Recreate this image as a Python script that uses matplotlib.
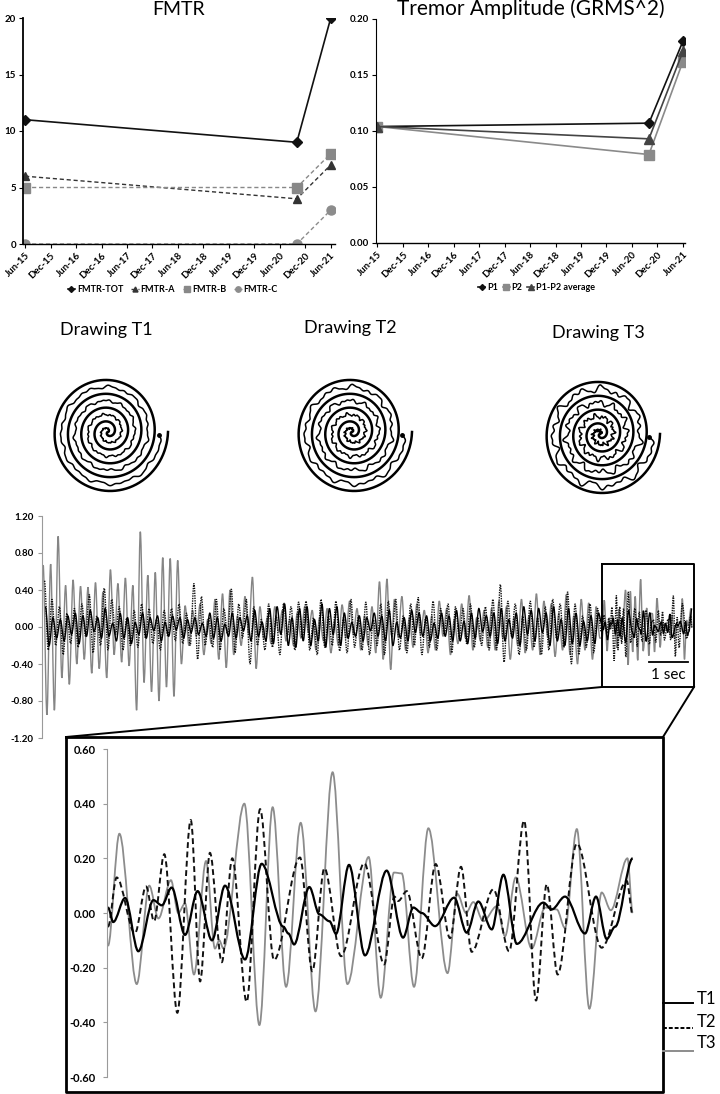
import numpy as np
import matplotlib
matplotlib.use("Agg")
import matplotlib.pyplot as plt
from matplotlib.path import Path
from matplotlib.patches import PathPatch

plt.rcParams['font.family'] = ['Lato', 'DejaVu Sans']

# ---------------- data ----------------
# months since Jun-15
visit_months = [0, 64, 72]
date_labels = ['Jun-15', 'Dec-15', 'Jun-16', 'Dec-16', 'Jun-17', 'Dec-17', 'Jun-18',
               'Dec-18', 'Jun-19', 'Dec-19', 'Jun-20', 'Dec-20', 'Jun-21']

fmtr_tot = [11, 9, 20]
fmtr_a = [6, 4, 7]
fmtr_b = [5, 5, 8]
fmtr_c = [0, 0, 3]

amp_p1 = [0.104, 0.107, 0.180]
amp_p2 = [0.104, 0.079, 0.162]
amp_avg = [0.104, 0.093, 0.171]

# whole recording (g), peak/trough values before the zoomed window
long_t3 = [0.67, -0.95, 0.68, -0.90, 0.98, -0.55, 0.45, -0.62, 0.51, -0.40,
           0.44, -0.35, 0.43, -0.50, 0.48, -0.45, 0.38, -0.55, 0.62, -0.30,
           0.47, -0.38, 0.53, -0.42, 0.45, -0.90, 1.03, -0.60, 0.56, -0.70,
           0.59, -0.80, 0.75, -0.65, 0.74, -0.75, 0.72, -0.40, 0.23, -0.20,
           0.18, -0.10, 0.25, -0.30, 0.08, -0.18, 0.30, -0.35, 0.36, -0.44,
           0.40, -0.30, 0.12, -0.20, 0.33, -0.08, 0.54, -0.45, 0.22, -0.12,
           0.10, -0.18, 0.22, -0.05, 0.18, -0.15, 0.08, -0.20, 0.15, -0.12,
           0.22, -0.06, 0.18, -0.25, 0.10, -0.15, 0.20, -0.28, 0.07, -0.20,
           0.24, -0.12, 0.28, -0.08, 0.20, -0.25, 0.12, -0.20, 0.22, -0.28,
           0.49, -0.35, 0.52, -0.46, 0.30, -0.10, 0.33, -0.25, 0.10, -0.22,
           0.25, -0.08, 0.18, -0.28, 0.12, -0.25, 0.28, -0.10, 0.20, -0.30,
           0.08, -0.18, 0.25, -0.12, 0.34, -0.25, 0.10, -0.15, 0.18, -0.22,
           0.20, -0.25, 0.28, -0.12, 0.22, -0.35, 0.10, -0.20, 0.30, -0.28,
           0.12, -0.25, 0.36, -0.30, 0.28, -0.10, 0.25, -0.32, 0.15, -0.25,
           0.35, -0.30, 0.12, -0.40, 0.30, -0.25, 0.26, -0.35, 0.22, -0.12]
long_t2 = [0.50, -0.25, 0.30, -0.20, 0.22, -0.30, 0.15, -0.18, 0.20, -0.22,
           0.25, -0.10, 0.35, -0.28, 0.12, -0.20, 0.42, -0.25, 0.30, -0.08,
           0.22, -0.25, 0.10, -0.20, 0.18, -0.22, 0.25, -0.12, 0.20, -0.18,
           0.08, -0.25, 0.18, -0.10, 0.20, -0.15, 0.25, -0.18, 0.15, -0.20,
           0.47, -0.35, 0.33, -0.20, 0.10, -0.22, 0.30, -0.25, 0.20, -0.08,
           0.41, -0.28, 0.25, -0.12, 0.30, -0.40, 0.22, -0.20, 0.08, -0.25,
           0.25, -0.22, 0.12, -0.30, 0.26, -0.10, 0.22, -0.25, 0.27, -0.12,
           0.28, -0.25, 0.10, -0.30, 0.30, -0.22, 0.12, -0.20, 0.28, -0.26,
           0.10, -0.28, 0.30, -0.22, 0.12, -0.25, 0.27, -0.30, 0.08, -0.20,
           0.25, -0.30, 0.28, -0.10, 0.30, -0.25, 0.12, -0.28, 0.25, -0.20,
           0.32, -0.30, 0.10, -0.22, 0.28, -0.25, 0.20, -0.08, 0.25, -0.28,
           0.22, -0.12, 0.20, -0.18, 0.25, -0.22, 0.10, -0.20, 0.22, -0.25,
           0.30, -0.25, 0.46, -0.38, 0.28, -0.10, 0.25, -0.30, 0.12, -0.25,
           0.28, -0.22, 0.10, -0.30, 0.22, -0.25, 0.30, -0.12, 0.25, -0.22,
           0.38, -0.40, 0.25, -0.30, 0.12, -0.22, 0.25, -0.28, 0.20, -0.05]
long_t1 = [0.22, -0.20, 0.10, -0.12, 0.08, -0.15, 0.12, -0.08, 0.15, -0.18,
           0.12, -0.10, 0.18, -0.05, 0.10, -0.12, 0.20, -0.10, 0.04, -0.15,
           0.15, -0.12, 0.10, -0.18, 0.05, -0.08, 0.15, -0.12, 0.10, -0.04,
           0.12, -0.15, 0.05, -0.10, 0.12, -0.03, 0.10, -0.12, 0.08, -0.06,
           0.10, -0.08, 0.04, -0.10, 0.15, -0.12, 0.10, -0.15, 0.03, -0.10,
           0.15, -0.12, 0.10, -0.04, 0.12, -0.15, 0.18, -0.10, 0.05, -0.15,
           0.20, -0.18, 0.22, -0.08, 0.25, -0.20, 0.10, -0.22, 0.20, -0.15,
           0.22, -0.20, 0.08, -0.15, 0.25, -0.22, 0.20, -0.08, 0.22, -0.20,
           0.15, -0.12, 0.05, -0.10, 0.12, -0.15, 0.10, -0.04, 0.15, -0.10,
           0.12, -0.15, 0.18, -0.20, 0.05, -0.12, 0.10, -0.15, 0.18, -0.06,
           0.15, -0.10, 0.12, -0.15, 0.04, -0.12, 0.15, -0.10, 0.12, -0.15,
           0.18, -0.15, 0.06, -0.18, 0.15, -0.12, 0.20, -0.05, 0.12, -0.10,
           0.15, -0.18, 0.20, -0.15, 0.08, -0.12, 0.15, -0.20, 0.22, -0.08,
           0.18, -0.15, 0.20, -0.06, 0.15, -0.20, 0.22, -0.15, 0.08, -0.20,
           0.20, -0.18, 0.15, -0.20, 0.06, -0.15, 0.12, -0.18, 0.15, 0.02]

# zoomed window (seconds, g)
zoom_t1_time = [0.000, 0.023, 0.075, 0.133, 0.199, 0.236, 0.279, 0.338, 0.393, 0.456,
                0.513, 0.601, 0.674, 0.769, 0.791, 0.816, 0.883, 0.927, 0.971, 1.000,
                1.057, 1.127, 1.222, 1.294, 1.339, 1.376, 1.434, 1.518, 1.573, 1.624,
                1.683, 1.734, 1.793, 1.909, 1.946, 2.004, 2.092, 2.140, 2.187, 2.224,
                2.301]
zoom_t1 = [0.02, -0.033, 0.055, -0.14, 0.047, 0.028, 0.093, -0.08, 0.08, -0.10,
           0.10, -0.17, 0.18, -0.05, -0.075, -0.115, 0.095, -0.005, -0.03, -0.076,
           0.176, -0.155, 0.155, -0.09, 0.02, 0.0, -0.048, 0.056, -0.072, 0.042,
           -0.06, 0.14, -0.113, 0.038, 0.013, 0.06, -0.075, 0.06, -0.095, -0.05,
           0.20]
zoom_t2_time = [0.000, 0.038, 0.118, 0.167, 0.202, 0.247, 0.304, 0.363, 0.404, 0.447,
                0.499, 0.545, 0.608, 0.667, 0.728, 0.842, 0.896, 0.949, 1.022, 1.124,
                1.211, 1.256, 1.273, 1.310, 1.376, 1.437, 1.500, 1.548, 1.595, 1.690,
                1.759, 1.825, 1.877, 1.924, 1.972, 2.056, 2.165, 2.275, 2.301]
zoom_t2 = [-0.05, 0.13, -0.074, 0.097, -0.03, 0.215, -0.365, 0.34, -0.25, 0.22,
           -0.18, 0.20, -0.325, 0.38, -0.172, 0.203, -0.213, 0.164, -0.158, 0.182,
           -0.188, 0.06, 0.044, 0.08, -0.166, 0.179, -0.092, 0.169, -0.142, 0.087,
           -0.14, 0.338, -0.32, 0.105, -0.225, 0.254, -0.127, 0.117, -0.007]
zoom_t3_time = [0.000, 0.050, 0.126, 0.181, 0.221, 0.276, 0.308, 0.338, 0.377, 0.430,
                0.469, 0.488, 0.506, 0.598, 0.664, 0.722, 0.781, 0.845, 0.910, 0.985,
                1.050, 1.143, 1.196, 1.254, 1.288, 1.342, 1.405, 1.489, 1.532, 1.570,
                1.602, 1.646, 1.705, 1.741, 1.788, 1.858, 1.917, 1.968, 2.004, 2.056,
                2.111, 2.165, 2.205, 2.278, 2.301]
zoom_t3 = [-0.12, 0.29, -0.26, 0.10, -0.02, 0.12, 0.0, 0.035, -0.225, 0.19,
           -0.13, -0.10, -0.13, 0.40, -0.41, 0.387, -0.27, 0.33, -0.36, 0.515,
           -0.26, 0.205, -0.31, 0.148, 0.145, -0.27, 0.31, -0.22, 0.07, 0.0,
           0.04, -0.03, 0.025, -0.085, 0.13, -0.13, 0.02, 0.013, -0.055, 0.307,
           -0.35, 0.075, 0.01, 0.20, 0.0]

window_start = 14.36
coarse_end = 14.30
long_yticks = [1.2, 0.8, 0.4, 0.0, -0.4, -0.8, -1.2]
zoom_yticks = [0.6, 0.4, 0.2, 0.0, -0.2, -0.4, -0.6]

W, H = 720, 1094
fig = plt.figure(figsize=(W / 100, H / 100), dpi=100)


def box(l, t, r, b):
    return [l / W, 1 - b / H, (r - l) / W, (b - t) / H]


def smooth_line(ax, t, v, **kw):
    # smoothed line (like Excel's) through the read peaks/troughs
    t = np.asarray(t, float)
    v = np.asarray(v, float)
    verts = [(t[0], v[0])]
    codes = [Path.MOVETO]
    for i in range(len(t) - 1):
        d = (t[i + 1] - t[i]) / 3
        verts += [(t[i] + d, v[i]), (t[i + 1] - d, v[i + 1]), (t[i + 1], v[i + 1])]
        codes += [Path.CURVE4] * 3
    ax.add_patch(PathPatch(Path(verts, codes), fill=False, **kw))


tick_font = dict(fontsize=7, fontweight='bold')

# ---------------- FMTR ----------------
ax1 = fig.add_axes(box(23, 18, 335, 244))
ax1.plot(visit_months, fmtr_tot, color='#111111', lw=1.2, marker='D', ms=5, label='FMTR-TOT')
ax1.plot(visit_months, fmtr_a, color='#333333', lw=1.0, ls=(0, (3, 2)), marker='^', ms=6, label='FMTR-A')
ax1.plot(visit_months, fmtr_b, color='#888888', lw=1.0, ls=(0, (3, 2)), marker='s', ms=6.5, label='FMTR-B')
ax1.plot(visit_months, fmtr_c, color='#8c8c8c', lw=1.0, ls=(0, (3, 2)), marker='o', ms=6.5, label='FMTR-C')
ax1.set_ylim(0, 20)
ax1.set_yticks([0, 5, 10, 15, 20])
ax1.set_xlim(-0.5, 73)
ax1.set_title('FMTR', fontsize=14, pad=2)
ax1.legend(loc='center', bbox_to_anchor=(0.48, -0.2), ncol=4, frameon=False,
           prop=dict(size=6.5, weight='bold'),
           handlelength=0.8, handletextpad=0.2, columnspacing=0.9, markerscale=0.6)

# ---------------- tremor amplitude ----------------
ax2 = fig.add_axes(box(376, 19, 685, 243))
ax2.plot(visit_months, amp_p1, color='#111111', lw=1.2, marker='D', ms=5, label='P1')
ax2.plot(visit_months, amp_p2, color='#8a8a8a', lw=1.2, marker='s', ms=6.5, label='P2')
ax2.plot(visit_months, amp_avg, color='#444444', lw=1.2, marker='^', ms=6.5, label='P1-P2 average')
ax2.set_ylim(0, 0.2)
ax2.set_yticks([0, 0.05, 0.10, 0.15, 0.20])
ax2.set_yticklabels([f'{v:.2f}' for v in [0, 0.05, 0.10, 0.15, 0.20]])
ax2.set_xlim(-0.3, 72.5)
ax2.set_title('Tremor Amplitude (GRMS^2)', fontsize=15, pad=2)
ax2.legend(loc='center', bbox_to_anchor=(0.52, -0.2), ncol=3, frameon=False,
           prop=dict(size=6.5, weight='bold'),
           handlelength=0.8, handletextpad=0.2, columnspacing=0.5, markerscale=0.6)

for ax in (ax1, ax2):
    ax.set_xticks(range(0, 73, 6))
    ax.set_xticklabels(date_labels, rotation=45, ha='right', rotation_mode='anchor', **tick_font)
    for lab in ax.get_yticklabels():
        lab.set_fontsize(7)
        lab.set_fontweight('bold')
    ax.spines['top'].set_visible(False)
    ax.spines['right'].set_visible(False)
    ax.spines['left'].set_linewidth(1.3)
    ax.spines['bottom'].set_linewidth(1.0)
    ax.tick_params(length=3, width=0.8, pad=2)
ax2.spines['left'].set_linewidth(0.8)

# ---------------- whole recording ----------------
ax3 = fig.add_axes(box(42, 516, 700, 738))
n = len(long_t3)
grid = np.linspace(0, coarse_end, n)
step = grid[1] - grid[0]
t3_time = np.concatenate([grid, window_start + np.array(zoom_t3_time)])
t2_time = np.concatenate([grid + step * 0.35, window_start + np.array(zoom_t2_time)])
t1_time = np.concatenate([grid + step * 0.6, window_start + np.array(zoom_t1_time)])
smooth_line(ax3, t3_time, long_t3 + zoom_t3, color='#858585', lw=1.0)
smooth_line(ax3, t2_time, long_t2 + zoom_t2, color='#111111', lw=1.0, ls=(0, (1, 0.8)))
smooth_line(ax3, t1_time, long_t1 + zoom_t1, color='#000000', lw=1.0)
ax3.set_xlim(-0.03, 16.87)
ax3.set_ylim(-1.2, 1.2)
ax3.set_yticks(long_yticks)
ax3.set_yticklabels([f'{v:.2f}' for v in long_yticks], fontsize=7, fontweight='bold')
ax3.set_xticks([])
for s in ('top', 'right', 'bottom'):
    ax3.spines[s].set_visible(False)
ax3.spines['left'].set_color('#9a9a9a')
ax3.tick_params(axis='y', length=3, color='#9a9a9a', pad=3)
ax3.patch.set_alpha(0)
# 1 sec scale bar
ax3.plot([15.56, 16.56], [-0.38, -0.38], color='black', lw=1.3)
ax3.text(16.06, -0.52, '1 sec', ha='center', va='center', fontsize=11)

# ---------------- zoomed window ----------------
ax4 = fig.add_axes(box(107, 749, 640, 1077))
smooth_line(ax4, zoom_t3_time, zoom_t3, color='#8c8c8c', lw=1.3)
smooth_line(ax4, zoom_t2_time, zoom_t2, color='#111111', lw=1.4, ls=(0, (3, 1.8)))
smooth_line(ax4, zoom_t1_time, zoom_t1, color='#000000', lw=1.6)
ax4.set_xlim(-0.0044, 2.333)
ax4.set_ylim(-0.6, 0.6)
ax4.set_yticks(zoom_yticks)
ax4.set_yticklabels([f'{v:.2f}' for v in zoom_yticks], fontsize=8, fontweight='bold')
ax4.set_xticks([])
for s in ('top', 'right', 'bottom'):
    ax4.spines[s].set_visible(False)
ax4.spines['left'].set_color('#9a9a9a')
ax4.tick_params(axis='y', length=3, color='#9a9a9a', pad=5)
ax4.patch.set_alpha(0)

# ---------------- overlay: drawings, zoom box, legend ----------------
ov = fig.add_axes([0, 0, 1, 1])
ov.set_xlim(0, W)
ov.set_ylim(H, 0)
ov.axis('off')
ov.patch.set_alpha(0)

turns = 4.5
phase = np.pi
for (cx, cy, title_y, wob), name in zip([(108, 432, 330, 1.0), (352, 432, 328, 1.5), (600, 434, 333, 2.3)],
                                        ['Drawing T1', 'Drawing T2', 'Drawing T3']):
    ov.text(cx - 2, title_y, name, ha='center', va='center', fontsize=13)
    a = 60 / (2 * np.pi * turns)
    th = np.linspace(0.2, 2 * np.pi * turns, 900)
    r = a * th
    ov.plot(cx + r * np.cos(th + phase), cy - r * np.sin(th + phase) * 1.04, color='black', lw=1.8)
    # hand-drawn trace between the guide turns, wobble grows outward
    th2 = np.linspace(0.5, 2 * np.pi * turns - 0.05, 1500)
    grow = np.sqrt(th2 / th2[-1])
    r2 = (a * th2 - 6.7 + wob * grow * (np.sin(11.3 * th2) + 0.7 * np.sin(17.9 * th2 + 1)
                                        + 0.5 * np.sin(31.7 * th2 + 2)))
    r2 = np.clip(r2, 0.5, None)
    xs = cx + r2 * np.cos(th2 + phase)
    ys = cy - r2 * np.sin(th2 + phase) * 1.04
    ov.plot(xs, ys, color='black', lw=1.1)
    ov.plot(xs[-1], ys[-1], 'o', color='black', ms=2.5)

# zoom box and connectors
ov.plot([602, 694, 694, 602, 602], [564, 564, 687, 687, 564], color='black', lw=1.4)
ov.plot([602, 66], [687, 737], color='black', lw=1.4)
ov.plot([694, 663], [687, 737], color='black', lw=1.4)
ov.plot([66, 663, 663, 66, 66], [737, 737, 1092, 1092, 737], color='black', lw=2.0)

# inset legend
ov.plot([663, 693], [1003, 1003], color='black', lw=1.4)
ov.plot([663, 693], [1028, 1028], color='black', lw=1.4, ls=(0, (2, 1)))
ov.plot([663, 693], [1051, 1051], color='#8c8c8c', lw=1.4)
for y, lab in zip([999, 1022, 1043], ['T1', 'T2', 'T3']):
    ov.text(697, y, lab, ha='left', va='center', fontsize=12)

fig.savefig('out.png', dpi=100)
